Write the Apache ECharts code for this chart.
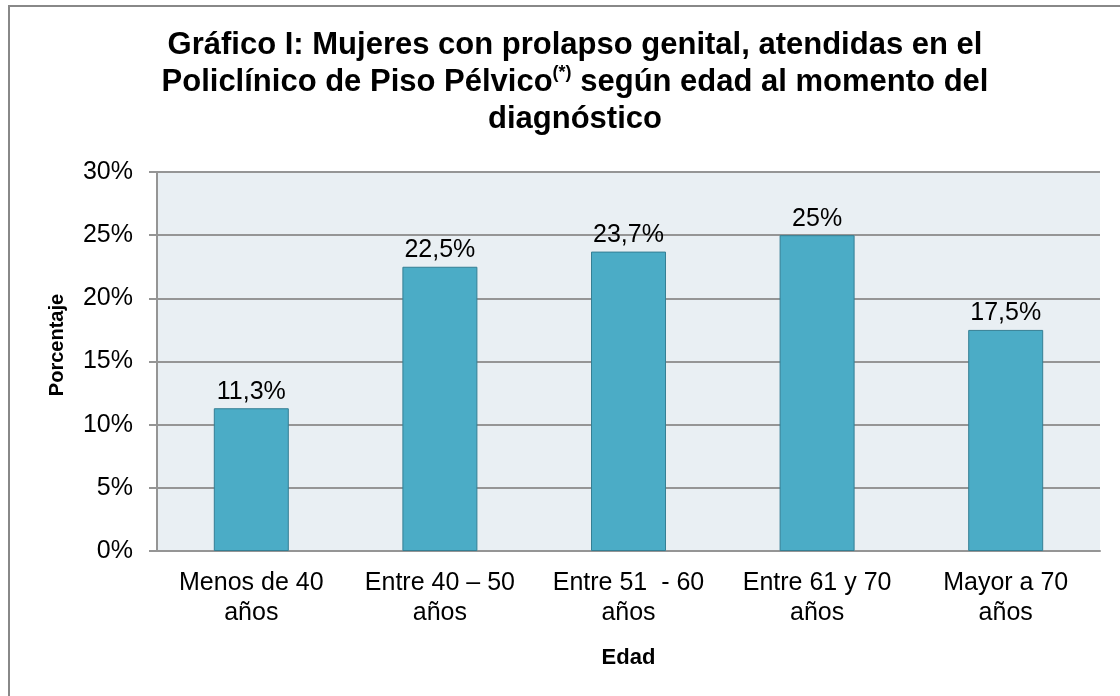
<!DOCTYPE html>
<html>
<head>
<meta charset="utf-8">
<title>Gráfico I</title>
<script src="https://cdn.jsdelivr.net/npm/echarts@6/dist/echarts.min.js"></script>
<style>
  html, body { margin: 0; padding: 0; background: #fff; }
  #chart { width: 1120px; height: 696px; }
</style>
</head>
<body>
<div id="chart"></div>
<script>
// datos
const categories = ['Menos de 40\naños', 'Entre 40 – 50\naños', 'Entre 51  - 60\naños', 'Entre 61 y 70\naños', 'Mayor a 70\naños']
const porcentajes = [11.3, 22.5, 23.7, 25, 17.5]
const yTicks = [0, 5, 10, 15, 20, 25, 30]

const font = 'Liberation Sans, Arial, sans-serif'
const chart = echarts.init(document.getElementById('chart'))

const option = {
  backgroundColor: '#fff',
  title: {
    text: 'Gráfico I: Mujeres con prolapso genital, atendidas en el\nPoliclínico de Piso Pélvico{sup|(*)} según edad al momento del\ndiagnóstico',
    left: 575,
    top: 27,
    padding: 0,
    textAlign: 'center',
    textStyle: {
      fontFamily: font,
      fontSize: 31,
      fontWeight: 'bold',
      color: '#000',
      lineHeight: 37,
      rich: {
        sup: {
          fontFamily: font,
          fontSize: 18,
          fontWeight: 'bold',
          color: '#000',
          lineHeight: 26,
          verticalAlign: 'top'
        }
      }
    }
  },
  grid: {
    left: 157,
    right: 20,
    top: 172,
    bottom: 145,
    show: true,
    backgroundColor: '#E9EFF3',
    borderWidth: 0
  },
  xAxis: {
    type: 'category',
    data: categories,
    name: 'Edad',
    nameLocation: 'middle',
    nameGap: 96,
    nameTextStyle: { fontFamily: font, fontSize: 22, fontWeight: 'bold', color: '#000' },
    axisLine: { lineStyle: { color: '#959595', width: 2 } },
    axisTick: { show: false },
    axisLabel: {
      fontFamily: font,
      fontSize: 25,
      color: '#000',
      lineHeight: 30,
      margin: 17,
      interval: 0
    }
  },
  yAxis: {
    type: 'value',
    min: yTicks[0],
    max: yTicks[yTicks.length - 1],
    interval: 5,
    axisLine: { show: true, lineStyle: { color: '#959595', width: 2 } },
    axisTick: { show: true, length: 8, lineStyle: { color: '#959595', width: 2 } },
    axisLabel: {
      fontFamily: font,
      fontSize: 25,
      color: '#000',
      margin: 24,
      formatter: '{value}%'
    },
    splitLine: { lineStyle: { color: '#959595', width: 2 } }
  },
  series: [
    {
      type: 'bar',
      data: porcentajes,
      barWidth: 75,
      itemStyle: {
        color: '#4BACC6',
        borderColor: '#357F94',
        borderWidth: 1
      },
      label: {
        show: true,
        position: 'top',
        distance: 4,
        fontFamily: font,
        fontSize: 25,
        color: '#000',
        formatter: (p) => String(p.value).replace('.', ',') + '%'
      }
    }
  ],
  graphic: [
    {
      type: 'text',
      x: 57,
      y: 345,
      rotation: Math.PI / 2,
      style: {
        text: 'Porcentaje',
        font: 'bold 20px ' + font,
        fill: '#000',
        align: 'center',
        verticalAlign: 'middle'
      }
    },
    {
      type: 'line',
      shape: { x1: 9, y1: 6, x2: 9, y2: 696 },
      style: { stroke: '#888', lineWidth: 2 }
    },
    {
      type: 'line',
      shape: { x1: 8, y1: 6, x2: 1120, y2: 6 },
      style: { stroke: '#888', lineWidth: 2 }
    }
  ]
}

chart.setOption(option)
</script>
</body>
</html>
